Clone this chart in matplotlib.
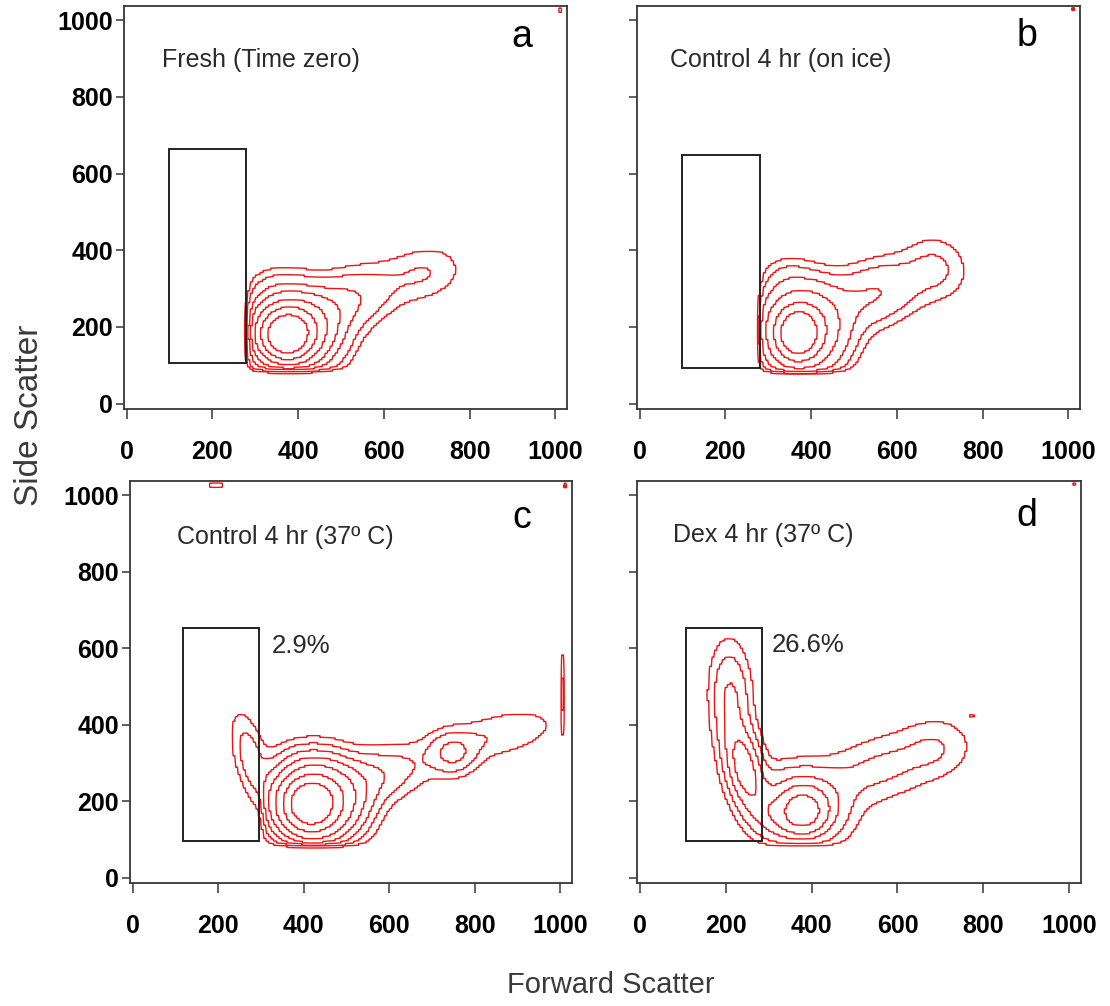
import numpy as np
import matplotlib
matplotlib.use("Agg")
import matplotlib.pyplot as plt
from matplotlib.patches import Rectangle

# ---------------- data ----------------
panel_letters = ["a", "b", "c", "d"]
panel_titles = ["Fresh (Time zero)", "Control 4 hr (on ice)",
                "Control 4 hr (37º C)", "Dex 4 hr (37º C)"]
gate_percent = ["", "", "2.9%", "26.6%"]

# gate rectangles (FSC from/to, SSC from/to)
gate_x0 = [100, 100, 117, 107]
gate_x1 = [278, 280, 296, 285]
gate_y0 = [105, 92, 97, 95]
gate_y1 = [663, 649, 652, 652]

tick_values = [0, 200, 400, 600, 800, 1000]

# cell populations:
# (FSC centre, SSC centre, spread along, spread across, angle deg, weight, FSC threshold)
pop_a = [(372, 178, 35, 38, 0, 0.6, 285),
         (385, 190, 60, 60, 0, 0.4, 285),
         (345, 300, 35, 35, 0, 0.012, 285),
         (505, 262, 80, 46, 27, 0.064, 285),
         (695, 340, 60, 45, 20, 0.025, 0),
         (1011, 1026, 3, 3, 0, 0.03, 0)]
pop_b = [(368, 180, 30, 40, 0, 0.6, 282),
         (380, 195, 55, 65, 0, 0.4, 282),
         (340, 330, 35, 35, 0, 0.015, 282),
         (545, 285, 80, 50, 25, 0.06, 282),
         (695, 355, 45, 55, 20, 0.025, 0),
         (1011, 1028, 3, 3, 0, 0.03, 0)]
pop_c = [(414, 190, 35, 40, 0, 0.6, 305),
         (430, 200, 60, 62, 0, 0.4, 305),
         (395, 310, 50, 35, 0, 0.012, 305),
         (278, 305, 80, 24, 103, 0.04, 0),
         (560, 262, 90, 45, 20, 0.045, 0),
         (748, 325, 36, 36, 0, 0.05, 0),
         (860, 375, 90, 38, 15, 0.025, 0),
         (1006, 490, 3, 70, 0, 0.03, 0),
         (195, 1026, 16, 3, 0, 0.03, 0),
         (1010, 1024, 3, 4, 0, 0.03, 0)]
pop_d = [(378, 172, 30, 32, 0, 0.6, 0),
         (385, 180, 55, 55, 0, 0.4, 0),
         (243, 290, 70, 26, 100, 0.42, 0),
         (212, 470, 80, 27, 92, 0.2, 0),
         (300, 165, 45, 30, 117, 0.15, 0),
         (330, 250, 60, 35, 0, 0.05, 0),
         (560, 285, 110, 50, 22, 0.1, 0),
         (690, 340, 45, 45, 0, 0.05, 0),
         (773, 423, 3, 3, 0, 0.06, 0),
         (1013, 1028, 3, 3, 0, 0.06, 0)]
populations = [pop_a, pop_b, pop_c, pop_d]

# lower SSC threshold for each sample
floor_ssc = [88, 85, 85, 85]

contour_levels = [[0.012, 0.026, 0.06, 0.11, 0.20, 0.34, 0.55],
                  [0.012, 0.026, 0.06, 0.14, 0.30, 0.53],
                  [0.012, 0.026, 0.05, 0.09, 0.16, 0.30, 0.53],
                  [0.03, 0.08, 0.18, 0.32, 0.60]]

# ---------------- layout ----------------
W, H = 1110, 1006
fig = plt.figure(figsize=(W / 100, H / 100), dpi=100)
frames = [(124, 6, 567, 409), (637, 6, 1080, 409),
          (130, 481, 572, 883), (637, 481, 1081, 883)]

RED = "#ee1414"
FRAME = "#363636"
TXT = "#2a2a2a"
tick_font = dict(family=["Liberation Sans Narrow", "Liberation Sans", "DejaVu Sans"],
                 weight="bold", size=18)

BIN = 6
edges = np.arange(-12, 1044 + BIN, BIN)
centres = edges[:-1] + BIN / 2
fine = (edges[:-1, None] + np.array([1, 3, 5])[None, :]).ravel()
CX, CY = np.meshgrid(centres, centres)


def density(pops, fy):
    Z = np.zeros_like(CX, dtype=float)
    for mx, my, su, sv, ang, w, fmin in pops:
        t = np.deg2rad(ang)
        dx, dy = CX - mx, CY - my
        u = dx * np.cos(t) + dy * np.sin(t)
        v = -dx * np.sin(t) + dy * np.cos(t)
        g = w * np.exp(-0.5 * ((u / su) ** 2 + (v / sv) ** 2))
        if fmin > 0:
            g = g / (1.0 + np.exp(-(CX - fmin) / 6.0))
        Z += g
    Z *= 1.0 / (1.0 + np.exp(-(CY - fy) / 5.0))
    Z /= Z.max()
    return np.repeat(np.repeat(Z, 3, axis=0), 3, axis=1)


for i in range(4):
    l, t, r, b = frames[i]
    ax = fig.add_axes([l / W, 1 - b / H, (r - l) / W, (b - t) / H])
    ax.set_xlim(-6, 1027)
    ax.set_ylim(-14, 1037)

    Zf = density(populations[i], floor_ssc[i])
    ax.contour(fine, fine, Zf, levels=contour_levels[i], colors=RED,
               linewidths=1.0)

    ax.add_patch(Rectangle((gate_x0[i], gate_y0[i]), gate_x1[i] - gate_x0[i],
                           gate_y1[i] - gate_y0[i], fill=False,
                           edgecolor="#222222", linewidth=1.4, zorder=3))

    for s in ax.spines.values():
        s.set_color(FRAME)
        s.set_linewidth(1.3)
    ax.set_xticks(tick_values)
    ax.set_yticks(tick_values)
    ax.tick_params(axis="y", direction="out", length=6, width=1.1,
                   color=FRAME, pad=2)
    ax.tick_params(axis="x", direction="out", length=7, width=1.1,
                   color=FRAME, pad=15)
    ax.set_xticklabels([str(v) for v in tick_values], **tick_font)
    if i in (0, 2):
        ax.set_yticklabels([str(v) for v in tick_values], **tick_font)
    else:
        ax.set_yticklabels([])

    title_pos = [(82, 897), (71, 897), (103, 891), (77, 895)][i]
    ax.text(title_pos[0], title_pos[1], panel_titles[i], ha="left", va="center",
            fontsize=18, color=TXT, family=["Liberation Sans", "DejaVu Sans"])
    letter_pos = [(922, 956), (903, 960), (909, 939), (900, 946)][i]
    ax.text(letter_pos[0], letter_pos[1], panel_letters[i], ha="center",
            va="center", fontsize=27, color="black",
            family=["Liberation Sans", "DejaVu Sans"])
    if gate_percent[i]:
        pct_pos = [(0, 0), (0, 0), (326, 606), (307, 608)][i]
        ax.text(pct_pos[0], pct_pos[1], gate_percent[i], ha="left", va="center",
                fontsize=18.5, color=TXT, family=["Liberation Sans", "DejaVu Sans"])

fig.text(30 / W, 1 - 415 / H, "Side Scatter", rotation=90, ha="center",
         va="center", fontsize=24, color="#3a3a3a",
         family=["Liberation Sans", "DejaVu Sans"])
fig.text(611 / W, 1 - 985 / H, "Forward Scatter", ha="center", va="center",
         fontsize=21, color="#3a3a3a", family=["Liberation Sans", "DejaVu Sans"])

fig.savefig("out.png", dpi=100)
